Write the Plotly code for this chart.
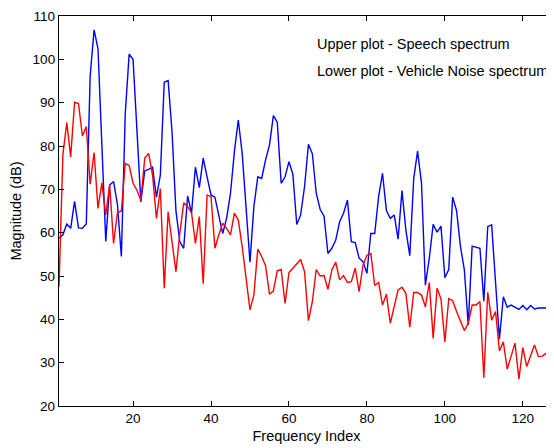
import plotly.graph_objects as go

# 주파수 인덱스
freq_idx = list(range(1, 129))

# 음성 스펙트럼 (upper)
speech_db = [
    58.7, 59.5, 62.0, 61.0, 67.2, 61.1, 61.0, 62.0, 96.2, 106.8,
    102.5, 80.0, 58.0, 71.0, 71.8, 66.5, 54.5, 87.5, 101.2, 100.0,
    82.2, 67.1, 74.3, 74.6, 75.1, 68.2, 73.3, 94.7, 95.1, 83.3,
    65.1, 57.9, 56.4, 68.5, 64.5, 75.1, 70.4, 77.2, 72.8, 68.7,
    68.2, 63.7, 59.8, 63.3, 69.1, 78.7, 86.0, 78.3, 65.2, 53.2,
    66.0, 72.9, 72.5, 76.8, 80.2, 87.0, 85.5, 71.4, 72.9, 76.4,
    73.5, 61.9, 64.1, 70.6, 80.4, 78.2, 69.1, 65.4, 63.8, 55.2,
    56.4, 58.3, 62.5, 64.5, 67.5, 57.9, 57.7, 54.1, 53.3, 50.6,
    59.8, 59.8, 68.3, 73.7, 65.1, 63.3, 64.1, 58.5, 69.7, 60.6,
    54.7, 72.4, 78.8, 71.5, 47.9, 54.1, 61.9, 60.1, 61.5, 49.6,
    51.5, 68.2, 65.1, 56.8, 51.4, 38.7, 56.9, 56.6, 56.4, 44.2,
    61.4, 61.8, 48.6, 35.4, 45.2, 42.8, 43.3, 42.8, 42.3, 43.2,
    42.2, 43.2, 42.4, 42.6, 42.6, 42.6, 42.8, 42.3,
]

# 차량 소음 스펙트럼 (lower)
noise_db = [
    47.5, 78.0, 85.4, 77.5, 90.1, 89.8, 82.3, 84.5, 71.2, 78.5,
    65.6, 71.5, 64.1, 71.0, 57.5, 64.6, 65.0, 76.0, 75.5, 71.4,
    69.8, 67.5, 77.2, 78.3, 73.3, 63.3, 70.2, 47.2, 64.8, 58.3,
    51.0, 59.9, 66.9, 66.0, 64.6, 57.5, 63.7, 48.2, 68.7, 68.3,
    56.4, 59.5, 62.2, 61.0, 59.5, 64.5, 62.9, 56.8, 49.8, 42.2,
    45.6, 56.2, 54.5, 52.4, 45.8, 46.5, 51.2, 51.5, 43.7, 50.8,
    51.8, 52.8, 53.8, 51.0, 39.7, 44.1, 51.5, 50.0, 50.1, 46.9,
    51.4, 53.2, 49.1, 50.1, 48.5, 48.7, 51.8, 46.4, 52.5, 54.8,
    55.2, 47.8, 48.5, 43.3, 45.8, 39.1, 42.9, 46.8, 47.4, 46.0,
    38.2, 46.2, 46.2, 45.6, 42.9, 48.5, 35.6, 47.2, 44.7, 34.8,
    44.8, 44.3, 41.8, 39.7, 37.4, 39.1, 43.3, 43.3, 44.1, 26.5,
    46.2, 39.8, 41.8, 32.7, 34.8, 28.5, 31.8, 34.5, 26.2, 33.5,
    29.1, 31.4, 34.1, 31.4, 31.5, 32.2, 30.2, 33.7,
]

x_ticks = [20, 40, 60, 80, 100, 120]
y_ticks = [20, 30, 40, 50, 60, 70, 80, 90, 100, 110]

notes = ['Upper plot - Speech spectrum', 'Lower plot - Vehicle Noise spectrum']

fam = 'Liberation Sans, Arial, sans-serif'
tick_fnt = dict(family=fam, size=13.5, color='black')
lbl_fnt = dict(family=fam, size=14.5, color='black')

fig = go.Figure()
fig.add_trace(go.Scatter(x=freq_idx, y=speech_db, mode='lines',
                         line=dict(color='#0000ff', width=1.4), name='speech'))
fig.add_trace(go.Scatter(x=freq_idx, y=noise_db, mode='lines',
                         line=dict(color='#ff0000', width=1.4), name='noise'))

axis_common = dict(showline=True, linecolor='black', linewidth=1.3, mirror='allticks',
                   ticks='inside', ticklen=5, tickcolor='black', tickwidth=1,
                   showgrid=False, zeroline=False, tickfont=tick_fnt)

# 페이지 body 여백(8px) 감안해서 크기/여백 잡음
fig.update_layout(
    width=546, height=440,
    margin=dict(l=51, r=0, t=8, b=42, autoexpand=False),
    paper_bgcolor='white', plot_bgcolor='white',
    showlegend=False,
    font=tick_fnt,
    xaxis=dict(range=[1, 128], tickvals=x_ticks,
               title=dict(text='Frequency Index', font=lbl_fnt, standoff=5), **axis_common),
    yaxis=dict(range=[20, 110], tickvals=y_ticks,
               title=dict(text='Magnitude (dB)', font=lbl_fnt, standoff=8), **axis_common),
)

for i, txt in enumerate(notes):
    fig.add_annotation(text=txt, xref='paper', yref='paper', x=0.517, y=0.928 - i * 0.069,
                       xanchor='left', yanchor='middle', showarrow=False, font=lbl_fnt)

fig.write_html("out.html")
